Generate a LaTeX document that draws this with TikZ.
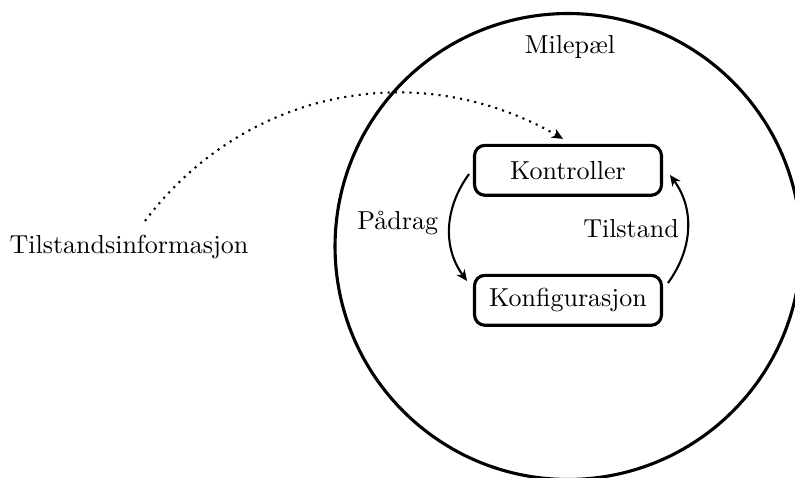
\documentclass[tikz,border=0pt]{standalone}
\usepackage{fontspec}
\usetikzlibrary{arrows.meta}
\begin{document}
\begin{tikzpicture}[x=0.3846pt,y=0.3846pt,
  box/.style={draw, line width=1.2pt, rounded corners=4pt,
    minimum width=71.9pt, minimum height=19.2pt, inner sep=0pt, outer sep=0pt},
  ring/.style={draw, circle, line width=1.2pt, minimum size=179.2pt,
    inner sep=0pt, outer sep=0pt},
  tip/.style={-{Stealth[length=4.2pt,width=3.8pt,inset=1.2pt]}},
  flow/.style={line width=0.8pt, tip},
  info/.style={line width=0.8pt, dash pattern=on 0.8pt off 2pt, tip},
  lbl/.style={anchor=base, inner sep=0pt}]
\useasboundingbox (0,0) rectangle (795,477);
\clip (0,0) rectangle (795,477);

% milestone boundary
\node[ring] (milepael) at (568,230.5) {};
\node[lbl] (milepaeltittel) at (570,424) {Milepæl};

% control loop
\node[box] (kontroller) at (568,306.7) {Kontroller};
\node[box] (konfig) at (568,176.7) {Konfigurasjon};
\node[lbl] (paadrag) at (397.7,248) {Pådrag};
\node[lbl] (tilstand) at (631,239.7) {Tilstand};

\draw[flow] ([shift={(-5.5,-3.7)}]kontroller.west) to[out=234,in=126]
  ([shift={(-7.5,19.3)}]konfig.west);
\draw[flow] ([shift={(6.5,17.3)}]konfig.east) to[out=54,in=306]
  ([shift={(8.5,-4.7)}]kontroller.east);

% incoming state information
\node[lbl] (info) at (129,224) {Tilstandsinformasjon};
\coordinate (infostart) at (145,256);
\draw[info] (infostart) to[out=53,in=150,looseness=1.0]
  ([shift={(-5,6.5)}]kontroller.north);
\end{tikzpicture}
\end{document}
